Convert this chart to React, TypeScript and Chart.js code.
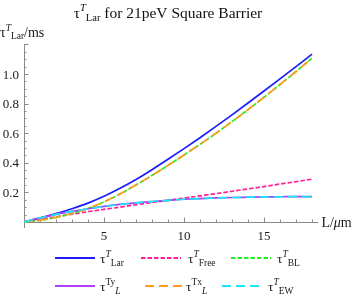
import React, { useEffect, useRef } from "react";
import { Chart, registerables } from "chart.js";
Chart.register(...registerables);

// ---- data ----
const lengths = [0, 1, 2, 3, 4, 5, 6, 7, 8, 9, 10, 11, 12, 13, 14, 15, 16, 17, 18];
const tauLar = [0, 0.027, 0.057, 0.09, 0.128, 0.174, 0.228, 0.288, 0.354, 0.424, 0.496, 0.57, 0.646, 0.724, 0.804, 0.885, 0.967, 1.05, 1.134];
const tauFree = [0, 0.018, 0.036, 0.053, 0.07, 0.086, 0.101, 0.117, 0.132, 0.147, 0.162, 0.177, 0.192, 0.208, 0.224, 0.24, 0.257, 0.273, 0.29];
const tauBL = [0, 0.012, 0.032, 0.058, 0.092, 0.136, 0.19, 0.25, 0.315, 0.383, 0.453, 0.525, 0.6, 0.678, 0.759, 0.843, 0.929, 1.017, 1.107];
const tauTy = [0, 0.028, 0.052, 0.072, 0.09, 0.106, 0.119, 0.13, 0.139, 0.147, 0.154, 0.159, 0.163, 0.166, 0.168, 0.17, 0.171, 0.172, 0.172];
const tauTx = [0, 0.012, 0.032, 0.058, 0.092, 0.136, 0.19, 0.25, 0.315, 0.383, 0.453, 0.525, 0.6, 0.678, 0.759, 0.843, 0.929, 1.017, 1.107];
const tauEW = [0, 0.028, 0.052, 0.072, 0.09, 0.106, 0.119, 0.13, 0.139, 0.147, 0.154, 0.159, 0.163, 0.166, 0.168, 0.17, 0.171, 0.172, 0.172];

const xTickValues = [5, 10, 15];
const xTickLabels = ["5", "10", "15"];
const yTickValues = [0.2, 0.4, 0.6, 0.8, 1.0];
const yTickLabels = ["0.2", "0.4", "0.6", "0.8", "1.0"];

type Part = { t: string; s: number; dy?: number; it?: boolean };

const SERIF = '"Liberation Serif", "Times New Roman", serif';

const sub = (t: string, it = false): Part => ({ t, s: 9.5, dy: 3, it });
const sup = (t: string, it = false): Part => ({ t, s: 9.5, dy: -5.5, it });

const series = [
  { label: [{ t: "τ", s: 13.5 }, sup("T", true), sub("Lar")], data: tauLar, color: "#1c1cff", dash: [] as number[], lx: 55, ly: 258, tx: 100 },
  { label: [{ t: "τ", s: 13.5 }, sup("T", true), sub("Free")], data: tauFree, color: "#ff2290", dash: [4.5, 2], lx: 141, ly: 258, tx: 188 },
  { label: [{ t: "τ", s: 13.5 }, sup("T", true), sub("BL")], data: tauBL, color: "#22ee22", dash: [4.5, 2], lx: 231, ly: 258, tx: 277 },
  { label: [{ t: "τ", s: 13.5 }, sup("Ty"), sub("L", true)], data: tauTy, color: "#b040ff", dash: [] as number[], lx: 55, ly: 286, tx: 100 },
  { label: [{ t: "τ", s: 13.5 }, sup("Tx"), sub("L", true)], data: tauTx, color: "#ff9a1a", dash: [9, 5], lx: 145, ly: 286, tx: 186 },
  { label: [{ t: "τ", s: 13.5 }, sup("T", true), sub("EW")], data: tauEW, color: "#1ae6f0", dash: [9, 5], lx: 222, ly: 286, tx: 268 },
];

function drawRich(ctx: CanvasRenderingContext2D, x: number, y: number, parts: Part[], align: "left" | "center" = "left") {
  const font = (p: Part) => `${p.it ? "italic " : ""}${p.s}px ${SERIF}`;
  let w = 0;
  for (const p of parts) {
    ctx.font = font(p);
    w += ctx.measureText(p.t).width;
  }
  let cx = align === "center" ? x - w / 2 : x;
  ctx.textAlign = "left";
  ctx.textBaseline = "alphabetic";
  for (const p of parts) {
    ctx.font = font(p);
    ctx.fillText(p.t, cx, y + (p.dy || 0));
    cx += ctx.measureText(p.t).width;
  }
}

const axesPlugin = {
  id: "mmaAxes",
  beforeDatasetsDraw(chart: any) {
    const ctx: CanvasRenderingContext2D = chart.ctx;
    const xs = chart.scales.x;
    const ys = chart.scales.y;
    const x0 = xs.getPixelForValue(0);
    const y0 = ys.getPixelForValue(0);
    ctx.save();
    ctx.strokeStyle = "#8a8a8a";
    ctx.lineWidth = 1;
    ctx.beginPath();
    ctx.moveTo(x0 + 0.5, ys.top);
    ctx.lineTo(x0 + 0.5, ys.bottom);
    ctx.moveTo(x0, Math.round(y0) + 0.5);
    ctx.lineTo(xs.right, Math.round(y0) + 0.5);
    ctx.stroke();
    ctx.beginPath();
    for (let v = 1; v <= xs.max; v += 1) {
      const px = Math.round(xs.getPixelForValue(v)) + 0.5;
      const len = v % 5 === 0 ? 4.5 : 2.5;
      ctx.moveTo(px, Math.round(y0));
      ctx.lineTo(px, Math.round(y0) - len);
    }
    for (let k = 1; k * 0.05 <= ys.max + 1e-9; k++) {
      const py = Math.round(ys.getPixelForValue(k * 0.05)) + 0.5;
      const len = k % 4 === 0 ? 4.5 : 2.5;
      ctx.moveTo(x0, py);
      ctx.lineTo(x0 + len, py);
    }
    ctx.stroke();
    ctx.restore();
  },
  afterDraw(chart: any) {
    const ctx: CanvasRenderingContext2D = chart.ctx;
    const xs = chart.scales.x;
    const ys = chart.scales.y;
    const x0 = xs.getPixelForValue(0);
    const y0 = ys.getPixelForValue(0);
    ctx.save();
    ctx.fillStyle = "#1a1a1a";
    ctx.font = `13px ${SERIF}`;
    ctx.textBaseline = "alphabetic";
    ctx.textAlign = "center";
    xTickValues.forEach((v, i) => {
      ctx.fillText(xTickLabels[i], xs.getPixelForValue(v), y0 + 18);
    });
    ctx.textAlign = "right";
    yTickValues.forEach((v, i) => {
      ctx.fillText(yTickLabels[i], x0 - 5, ys.getPixelForValue(v) + 4.5);
    });
    drawRich(ctx, xs.right + 3, y0 + 5, [{ t: "L/", s: 14 }, { t: "μ", s: 14, it: true }, { t: "m", s: 14 }]);
    drawRich(ctx, 0, 37, [{ t: "τ", s: 14 }, { t: "T", s: 9.5, dy: -6, it: true }, { t: "Lar", s: 9.5, dy: 2 }, { t: "/ms", s: 14 }]);
    ctx.fillStyle = "#111";
    drawRich(ctx, 168, 17.5, [{ t: "τ", s: 15.5 }, { t: "T", s: 10.5, dy: -6.5, it: true }, { t: "Lar", s: 10.5, dy: 3 }, { t: " for 21peV Square Barrier", s: 15.5 }], "center");
    series.forEach((s) => {
      ctx.strokeStyle = s.color;
      ctx.lineWidth = 2;
      ctx.setLineDash(s.dash);
      ctx.beginPath();
      ctx.moveTo(s.lx, s.ly);
      ctx.lineTo(s.lx + 40, s.ly);
      ctx.stroke();
      ctx.setLineDash([]);
      ctx.fillStyle = "#1a1a1a";
      drawRich(ctx, s.tx, s.ly + 4.5, s.label);
    });
    ctx.restore();
  },
};

export default function App() {
  const ref = useRef<HTMLCanvasElement>(null);
  useEffect(() => {
    document.body.style.margin = "0";
    const canvas = ref.current!;
    const chart = new Chart(canvas, {
      type: "line",
      data: {
        datasets: series.map((s, i) => ({
          label: s.label.map((p) => p.t).join(""),
          data: lengths.map((L, j) => ({ x: L, y: s.data[j] })),
          borderColor: s.color,
          backgroundColor: s.color,
          borderWidth: 1.7,
          borderDash: s.dash,
          pointRadius: 0,
          fill: false,
          cubicInterpolationMode: "monotone" as const,
          order: series.length - i,
        })),
      },
      options: {
        animation: false,
        responsive: false,
        events: [],
        layout: { padding: { left: 24, right: 41.6, top: 44.4, bottom: 76 } },
        plugins: { legend: { display: false }, tooltip: { enabled: false }, title: { display: false } },
        scales: {
          x: { type: "linear", min: 0, max: 18.4, display: false },
          y: { type: "linear", min: -0.04, max: 1.2, display: false },
        },
      },
      plugins: [axesPlugin],
    } as any);
    return () => chart.destroy();
  }, []);
  return (
    <div style={{ position: "absolute", left: 0, top: 0, width: 360, height: 304, background: "#fff" }}>
      <canvas ref={ref} width={360} height={304} style={{ display: "block", width: 360, height: 304 }} />
    </div>
  );
}
